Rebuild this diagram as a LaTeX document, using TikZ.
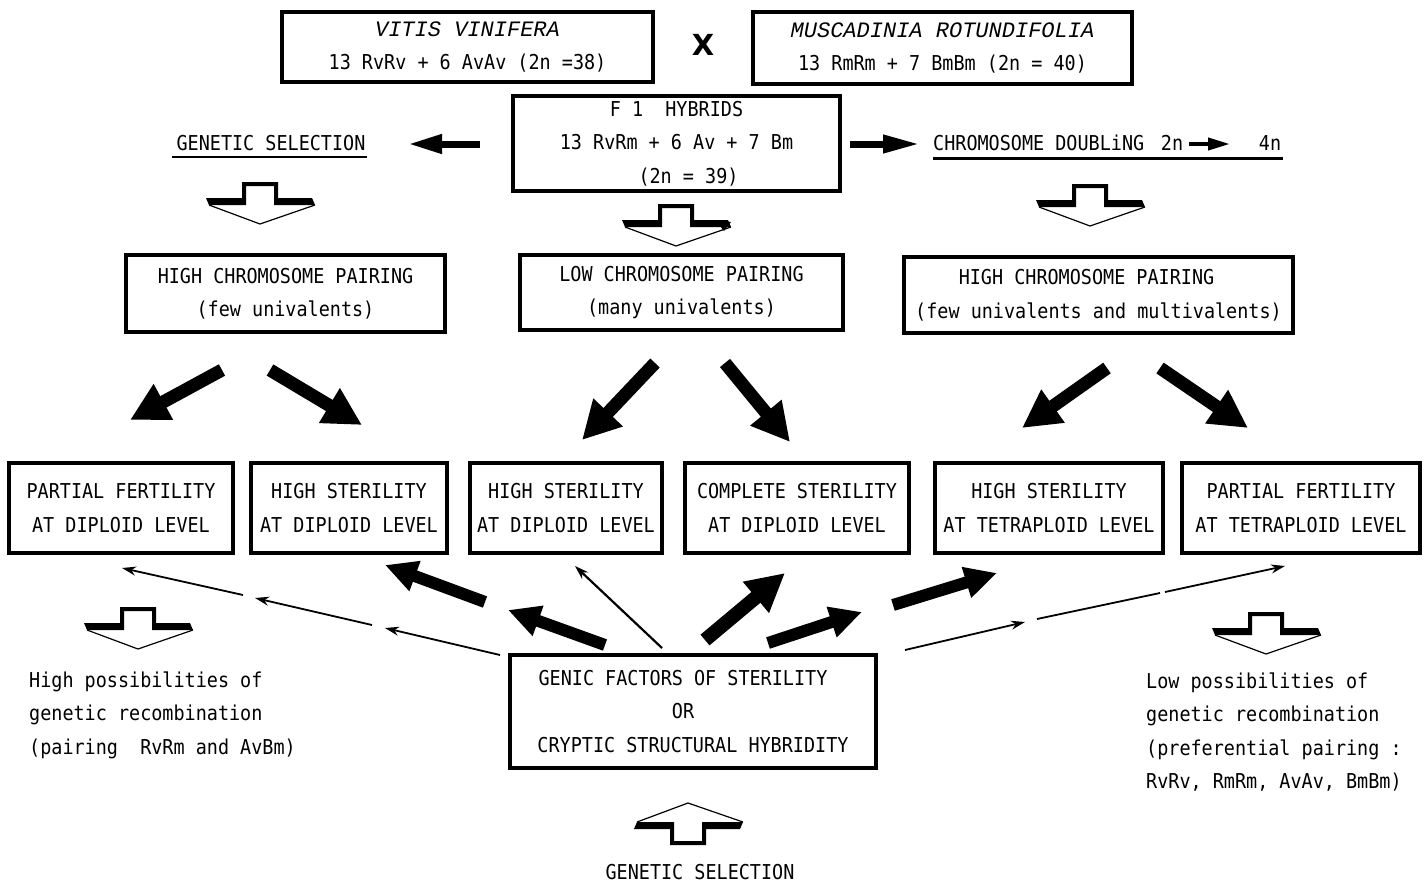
\documentclass[tikz,border=0pt]{standalone}
\usepackage{fontspec}
\usetikzlibrary{arrows.meta}
\newfontfamily\tw[FakeStretch=0.9]{DejaVu Sans Mono}
\newfontfamily\itf{Liberation Mono}
\newfontfamily\dvs{DejaVu Sans}
\newcommand\twf{\tw\fontsize{20.5}{33.5}\selectfont}
\newcommand\itx{\itf\itshape\fontsize{22}{33.5}\selectfont}
\begin{document}
\begin{tikzpicture}[x=1pt,y=-1pt,
 box/.style={draw, line width=3.3pt, align=center, inner sep=0pt, font=\twf},
 lbl/.style={inner sep=0pt, font=\twf},
 bigarrow/.style={line width=13pt, -{Triangle[length=38pt,width=38pt]}},
 medarrow/.style={line width=12pt, -{Triangle[length=32pt,width=30pt]}},
 flatarrow/.style={line width=7pt, -{Triangle[length=34pt,width=18pt]}},
 thinarrow/.style={line width=1.8pt, -{Stealth[length=14pt,width=9pt]}},
 hollow/.pic={
  \fill (-54,16) -- (-18,16) -- (-18,0) -- (18,0) -- (18,16) -- (52,16) -- (55,23) -- (14,23) -- (14,4) -- (-14,4) -- (-14,23) -- (-51,23) -- cycle;
  \draw[line width=1.2pt] (-51,23) -- (0,42) -- (55,23);
 }]
\useasboundingbox (0,0) rectangle (1428,884);

% top
\node[box, minimum width=371pt, minimum height=70pt] (vitis) at (467.5,47) {{\itx VITIS VINIFERA}\\13 RvRv + 6 AvAv (2n =38)};
\node[font=\dvs\bfseries\fontsize{29}{29}\selectfont, inner sep=0pt] (cross) at (703,45) {X};
\node[box, minimum width=379pt, minimum height=72pt] (musc) at (942.5,48) {{\itx MUSCADINIA ROTUNDIFOLIA}\\13 RmRm + 7 BmBm (2n = 40)};
\node[box, minimum width=327pt, minimum height=95pt] (f1) at (676.5,143.5) {F~1~~HYBRIDS\\13 RvRm + 6 Av + 7 Bm\\\hspace*{24pt}(2n = 39)};

% left branch label
\node[lbl] (gs) at (271,143) {GENETIC SELECTION};
\draw[line width=2.5pt] (172,157) -- (367,157);
\draw[flatarrow] (480,144) -- (408,144);

% right branch label
\draw[flatarrow, -{Triangle[length=37pt,width=17pt]}] (850,144) -- (920,144);
\node[lbl, anchor=west] (cd) at (933,143) {CHROMOSOME DOUBLiNG};
\node[lbl] (n2) at (1172,143) {2n};
\draw[line width=4pt, -{Triangle[length=22pt,width=12pt]}] (n2.east) ++(6,1) -- (1230,144);
\node[lbl] (n4) at (1270,143) {4n};
\draw[line width=3pt] (933,158) -- (1283,158);

% hollow arrows top
\pic at (260,182) {hollow};
\pic at (676,204) {hollow};
\fill (716,221) -- (731,222) -- (724,231) -- cycle;
\pic at (1090,184) {hollow};

% middle boxes
\node[box, minimum width=319pt, minimum height=77pt] (m1) at (285.5,293.5) {HIGH CHROMOSOME PAIRING\\(few univalents)};
\node[box, minimum width=323pt, minimum height=75pt] (m2) at (681.5,292.5) {LOW CHROMOSOME PAIRING\\(many univalents)};
\node[box, minimum width=389pt, minimum height=76pt] (m3) at (1098.5,295) {\hspace*{-24pt}HIGH CHROMOSOME PAIRING\\(few univalents and multivalents)};

% diagonal arrows
\draw[bigarrow] (222,370) -- (130,420);
\draw[bigarrow] (270,370) -- (362,425);
\draw[bigarrow] (655,363) -- (582,440);
\draw[bigarrow] (725,363) -- (790,442);
\draw[bigarrow] (1107,368) -- (1022,428);
\draw[bigarrow] (1160,368) -- (1248,428);

% row of result boxes
\node[box, minimum width=224pt, minimum height=90pt] (b1) at (121,508) {PARTIAL FERTILITY\\AT DIPLOID LEVEL};
\node[box, minimum width=196pt, minimum height=90pt] (b2) at (349,508) {HIGH STERILITY\\AT DIPLOID LEVEL};
\node[box, minimum width=192pt, minimum height=90pt] (b3) at (566,508) {HIGH STERILITY\\AT DIPLOID LEVEL};
\node[box, minimum width=224pt, minimum height=90pt] (b4) at (797,508) {COMPLETE STERILITY\\AT DIPLOID LEVEL};
\node[box, minimum width=228pt, minimum height=90pt] (b5) at (1049,508) {HIGH STERILITY\\AT TETRAPLOID LEVEL};
\node[box, minimum width=238pt, minimum height=90pt] (b6) at (1301,508) {PARTIAL FERTILITY\\AT TETRAPLOID LEVEL};

% central bottom box
\node[box, minimum width=366pt, minimum height=113pt] (g) at (693,711.5) {\hspace*{-20pt}GENIC FACTORS OF STERILITY\\\hspace*{-20pt}OR\\CRYPTIC STRUCTURAL HYBRIDITY};

% arrows from central box
\draw[thinarrow] (500,655) -- (385,628);
\draw[thinarrow] (372,625) -- (255,598);
\draw[thinarrow] (243,595) -- (122,568);
\draw[medarrow] (605,645) -- (508,610);
\draw[medarrow] (485,602) -- (385,565);
\draw[thinarrow, line width=2.2pt] (662,648) -- (575,566);
\draw[bigarrow, line width=14pt] (705,640) -- (785,573);
\draw[medarrow] (768,643) -- (862,612);
\draw[medarrow] (893,605) -- (997,573);
\draw[thinarrow] (905,650) -- (1025,622);
\draw[line width=1.8pt] (1037,619) -- (1160,593);
\draw[thinarrow] (1165,592) -- (1285,566);

% hollow arrows bottom
\pic at (138,607) {hollow};
\pic at (1266,612) {hollow};
\pic[yscale=-1] at (688,845) {hollow};

% texts
\node[lbl, anchor=west, align=left] (lt) at (29,715) {High possibilities of\\genetic recombination\\(pairing~~RvRm and AvBm)};
\node[lbl, anchor=west, align=left] (rt) at (1146,732) {Low possibilities of\\genetic recombination\\(preferential pairing :\\RvRv, RmRm, AvAv, BmBm)};
\node[lbl] (gs2) at (700,872) {GENETIC SELECTION};
\end{tikzpicture}
\end{document}
